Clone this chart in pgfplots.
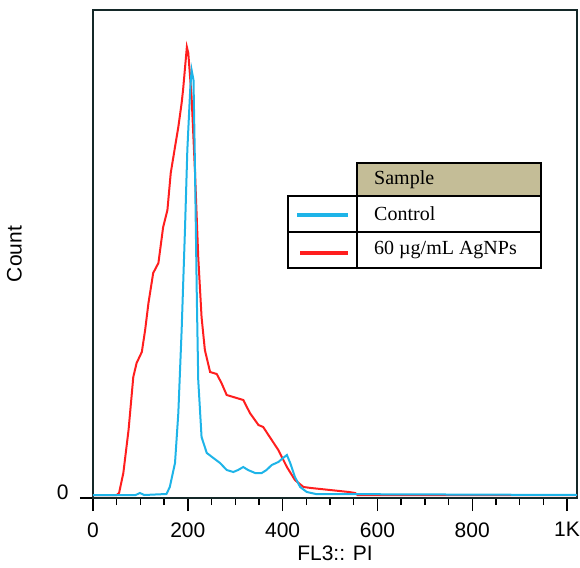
\documentclass[border=0pt]{standalone}
\usepackage{pgfplots}
\pgfplotsset{compat=1.18}
\usepackage{fontspec}
\setmainfont{Liberation Serif}
\setsansfont{Liberation Sans}

\definecolor{ctrlBlue}{RGB}{30,180,232}
\definecolor{agRed}{RGB}{255,30,30}
\definecolor{frameDark}{RGB}{20,40,40}
\definecolor{headTan}{RGB}{196,189,151}

\begin{document}
\begin{tikzpicture}
  % page = 580 x 567 px, axis box lower left at pixel (93,498)
  \useasboundingbox (-93pt,-69pt) rectangle (487pt,498pt);
  \begin{axis}[
    at={(0pt,0pt)}, anchor=south west,
    scale only axis,
    width=484pt, height=488pt,
    xmin=0, xmax=1021,
    ymin=0, ymax=488,
    xtick={0,200,400,600,800,1000},
    xticklabels={0,200,400,600,800,1K},
    minor x tick num=3,
    ytick={0},
    xtick pos=bottom, ytick pos=left,
    tick align=outside,
    major tick length=13pt,
    minor tick length=7pt,
    axis line style={frameDark, line width=1.6pt},
    tick style={black, line width=1.4pt},
    /pgf/number format/assume math mode=true,
    tick label style={font=\sffamily\fontsize{21}{24}\selectfont},
    xticklabel style={yshift=-8pt},
    yticklabel style={yshift=6pt, xshift=-8pt},
    xlabel={FL3:: PI},
    ylabel={Count},
    label style={font=\sffamily\fontsize{21}{24}\selectfont},
    xlabel style={yshift=-2pt},
    ylabel style={yshift=28pt},
    clip=false,
  ]
    % 60 ug/mL AgNPs
    \addplot[agRed, line width=2pt, no markers] coordinates {
      (0,3) (50,3) (55,5) (64,25) (75,68) (85,121) (92,135) (103,146)
      (110,168) (117,195) (127,225) (138,235) (148,271) (157,288) (164,325)
      (173,351) (180,371) (187,395) (190,408) (198,451) (201,445) (208,401)
      (215,328) (222,241) (229,181) (236,148) (247,126) (261,124) (271,115)
      (282,103) (296,101) (317,98) (331,85) (349,73) (359,71) (377,58)
      (391,48) (409,31) (426,18) (444,11) (460,10) (480,9) (500,8) (520,7)
      (540,6) (553,5) (558,3) (1021,3)
    };
    % Control
    \addplot[ctrlBlue, line width=2pt, no markers] coordinates {
      (0,3) (90,3) (99,5) (108,3) (155,4) (162,11) (173,35) (180,85)
      (187,168) (194,268) (199,348) (205,408) (208,428) (212,418) (215,335)
      (219,201) (222,118) (229,61) (240,45) (254,40) (268,35) (282,28)
      (296,26) (306,28) (317,31) (327,28) (342,25) (356,25) (366,28)
      (377,33) (391,36) (401,40) (409,43) (416,35) (426,21) (437,11)
      (451,6) (470,4) (1021,3)
    };
  \end{axis}
  % legend table
  \draw[line width=2pt, fill=headTan] (264pt,302pt) rectangle (448pt,335pt);
  \draw[line width=2pt] (195pt,230pt) rectangle (448pt,302pt);
  \draw[line width=2pt] (195pt,266pt) -- (448pt,266pt);
  \draw[line width=2pt] (264pt,230pt) -- (264pt,302pt);
  \draw[ctrlBlue, line width=4pt] (204pt,283pt) -- (255pt,283pt);
  \draw[agRed, line width=4pt] (207pt,245pt) -- (255pt,245pt);
  \begin{scope}[every node/.style={anchor=west, inner sep=0pt, font=\fontsize{20}{23}\selectfont}]
    \node at (281pt,318.5pt) {Sample};
    \node at (281pt,284pt) {Control};
    \node at (281pt,248pt) {60 µg/mL AgNPs};
  \end{scope}
\end{tikzpicture}
\end{document}
